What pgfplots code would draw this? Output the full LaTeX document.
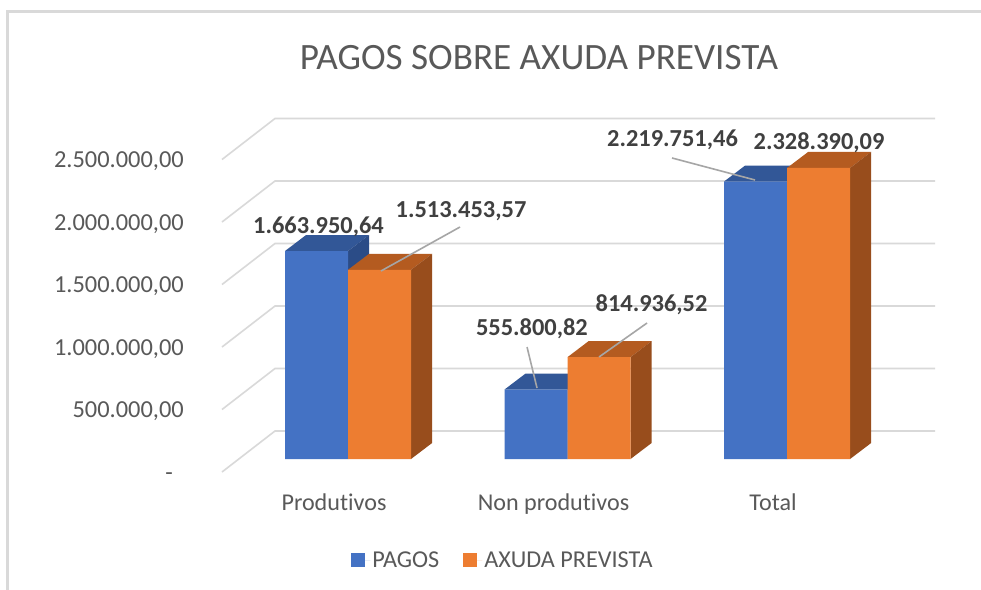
\documentclass[border=0pt]{standalone}
\usepackage{fontspec}
\setmainfont{Carlito}[Ligatures={NoCommon,NoRare,NoContextual}]
\usepackage{pgfplots}
\pgfplotsset{compat=1.18}
\definecolor{bfront}{HTML}{4472C4}
\definecolor{btop}{HTML}{325797}
\definecolor{bside}{HTML}{2B4C87}
\definecolor{ofront}{HTML}{ED7D31}
\definecolor{otop}{HTML}{B45B20}
\definecolor{oside}{HTML}{984D1C}
\definecolor{gridc}{HTML}{D9D9D9}
\definecolor{txt}{HTML}{595959}
\definecolor{lbl}{HTML}{404040}
\definecolor{lead}{HTML}{A6A6A6}
\pgfplotsset{
  face/.style={draw=none, fill=#1, forget plot},
  gl/.style={gridc, line width=1.6bp, forget plot},
  sqlegend/.style={legend image code/.code={\fill[##1] (0bp,-6.5bp) rectangle (14bp,6.5bp); \path (0bp,0bp) -- (19bp,0bp);}},
}
\begin{document}
\begin{tikzpicture}
\useasboundingbox (0,0) rectangle (981bp,-590bp);
\fill[white] (0,0) rectangle (981bp,-590bp);
\draw[gridc, line width=3bp] (7.5bp,-590bp) -- (7.5bp,-11.5bp) -- (981bp,-11.5bp);
\node[anchor=base, inner sep=0pt, font=\fontsize{37.3}{42}\selectfont, text=txt] at (539bp,-69bp) {PAGOS SOBRE AXUDA PREVISTA};
\begin{axis}[
  at={(222bp,-472bp)}, anchor=south west,
  width=713bp, height=363bp, scale only axis,
  xmin=-0.574, xmax=2.674, ymin=-104000, ymax=2800000,
  clip=false,
  axis line style={draw=none}, tick style={draw=none},
  scaled y ticks=false,
  xtick={0,1,2}, xticklabels={Produtivos, Non produtivos, Total},
  ytick={0,500000,1000000,1500000,2000000,2500000},
  yticklabels={{-\hspace*{11bp}},{500.000,00},{1.000.000,00},{1.500.000,00},{2.000.000,00},{2.500.000,00}},
  xticklabel style={anchor=base, inner sep=0pt, yshift=-38bp, xshift=-14bp, font=\fontsize{24.2}{28}\selectfont, text=txt},
  yticklabel style={anchor=base east, inner sep=0pt, xshift=-38bp, yshift=-21bp, font=\fontsize{24.5}{28}\selectfont, text=txt},
  legend style={at={(0.394,-0.2424)}, anchor=center, draw=none, fill=none,
    font=\fontsize{24.3}{28}\selectfont, text=txt,
    /tikz/every even column/.append style={column sep=22bp}},
  legend columns=2,
]
% back wall and side wall gridlines
\addplot[gl] coordinates {(-0.574,-104000) (-0.3326,224000) (2.674,224000)};
\addplot[gl] coordinates {(-0.574,396000) (-0.3326,724000) (2.674,724000)};
\addplot[gl] coordinates {(-0.574,896000) (-0.3326,1224000) (2.674,1224000)};
\addplot[gl] coordinates {(-0.574,1396000) (-0.3326,1724000) (2.674,1724000)};
\addplot[gl] coordinates {(-0.574,1896000) (-0.3326,2224000) (2.674,2224000)};
\addplot[gl] coordinates {(-0.574,2396000) (-0.3326,2724000) (2.674,2724000)};
% PAGOS: top and side faces
\addplot[face=btop] coordinates {(-0.287,1663950.64) (-0.191,1791950.64) (0.096,1791950.64) (0,1663950.64)};
\addplot[face=bside] coordinates {(0,0) (0.096,128000) (0.096,1791950.64) (0,1663950.64)};
\addplot[face=btop] coordinates {(0.713,555800.82) (0.809,683800.82) (1.096,683800.82) (1,555800.82)};
\addplot[face=bside] coordinates {(1,0) (1.096,128000) (1.096,683800.82) (1,555800.82)};
\addplot[face=btop] coordinates {(1.713,2219751.46) (1.809,2347751.46) (2.096,2347751.46) (2,2219751.46)};
\addplot[face=bside] coordinates {(2,0) (2.096,128000) (2.096,2347751.46) (2,2219751.46)};
% PAGOS front
\addplot[ybar, bar width=63bp, bar shift=-31.5bp, draw=none, fill=bfront, sqlegend]
  coordinates {(0,1663950.64) (1,555800.82) (2,2219751.46)};
\addlegendentry{PAGOS}
% AXUDA PREVISTA: top and side faces
\addplot[face=otop] coordinates {(0,1513453.57) (0.096,1641453.57) (0.383,1641453.57) (0.287,1513453.57)};
\addplot[face=oside] coordinates {(0.287,0) (0.383,128000) (0.383,1641453.57) (0.287,1513453.57)};
\addplot[face=otop] coordinates {(1,814936.52) (1.096,942936.52) (1.383,942936.52) (1.287,814936.52)};
\addplot[face=oside] coordinates {(1.287,0) (1.383,128000) (1.383,942936.52) (1.287,814936.52)};
\addplot[face=otop] coordinates {(2,2328390.09) (2.096,2456390.09) (2.383,2456390.09) (2.287,2328390.09)};
\addplot[face=oside] coordinates {(2.287,0) (2.383,128000) (2.383,2456390.09) (2.287,2328390.09)};
% AXUDA PREVISTA front
\addplot[ybar, bar width=63bp, bar shift=31.5bp, draw=none, fill=ofront, sqlegend]
  coordinates {(0,1513453.57) (1,814936.52) (2,2328390.09)};
\addlegendentry{AXUDA PREVISTA}
% leader lines
\draw[lead, line width=1.6bp] (axis cs:0.5103,1856000) -- (axis cs:0.1503,1504000);
\draw[lead, line width=1.6bp] (axis cs:0.8155,896000) -- (axis cs:0.8610,568000);
\draw[lead, line width=1.6bp] (axis cs:1.3622,1088000) -- (axis cs:1.1435,816000);
\draw[lead, line width=1.6bp] (axis cs:1.4761,2408000) -- (axis cs:1.8542,2232000);
% data labels
\begin{scope}[every node/.style={inner sep=0pt, font=\fontsize{24.5}{28}\selectfont\bfseries, text=lbl}]
\node[anchor=base] at (axis cs:-0.1344,1808000) {1.663.950,64};
\node[anchor=base] at (axis cs:0.5148,1936000) {1.513.453,57};
\node[anchor=base east] at (axis cs:1.0934,992000) {555.800,82};
\node[anchor=base] at (axis cs:1.3827,1184000) {814.936,52};
\node[anchor=base] at (axis cs:1.4784,2498400) {2.219.751,46};
\node[anchor=base] at (axis cs:2.1458,2477600) {2.328.390,09};
\end{scope}
\end{axis}
\end{tikzpicture}
\end{document}
